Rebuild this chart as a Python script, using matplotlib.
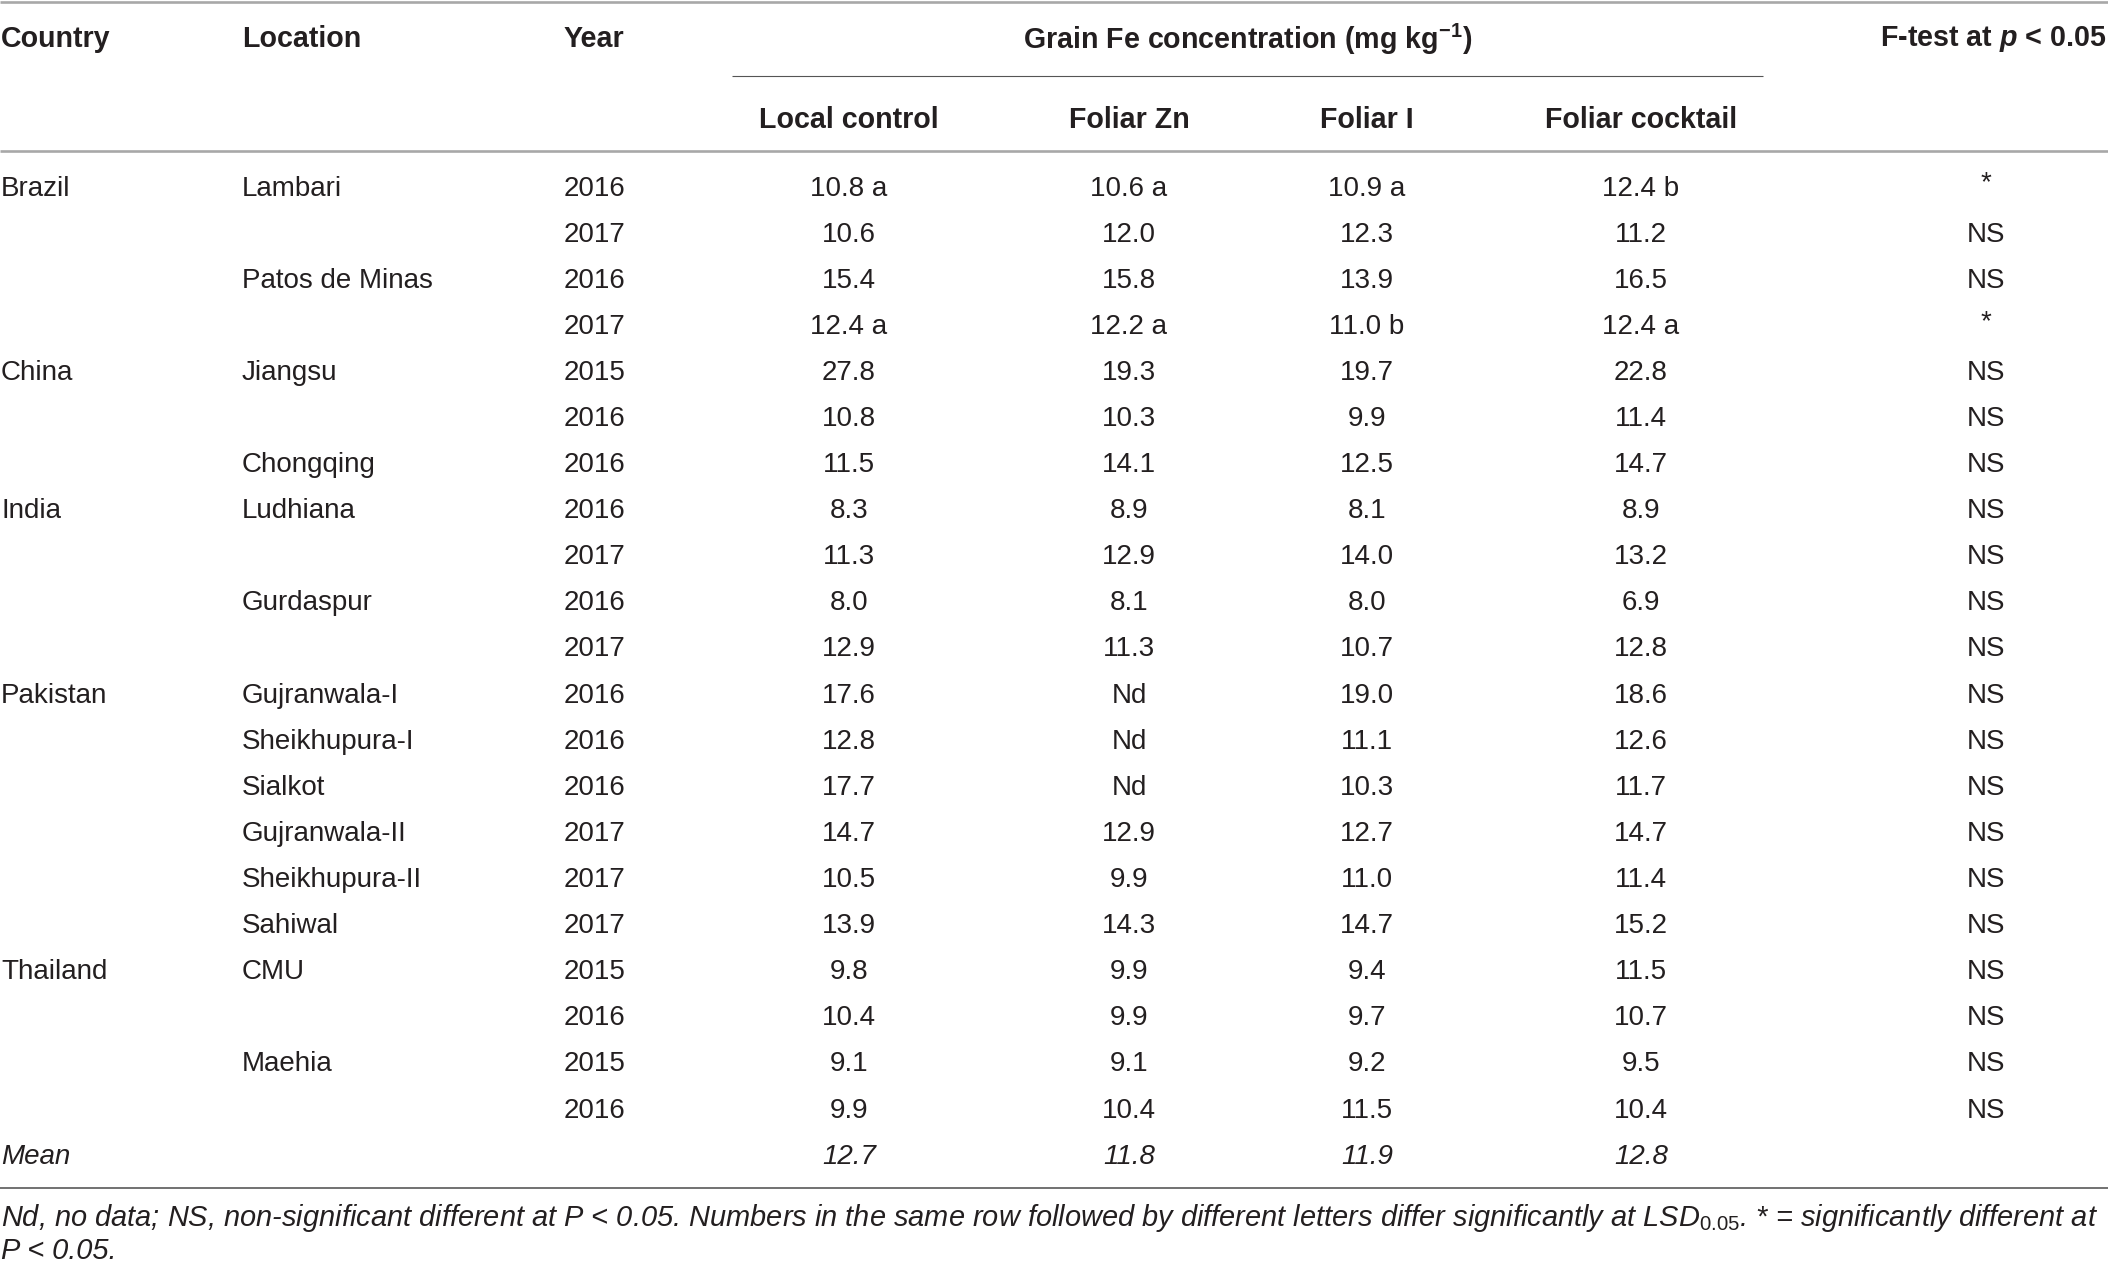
import matplotlib
matplotlib.use("Agg")
import matplotlib.pyplot as plt

# Table contents
countries = ["Brazil", "", "", "", "China", "", "", "India", "", "", "",
             "Pakistan", "", "", "", "", "", "Thailand", "", "", ""]
locations = ["Lambari", "", "Patos de Minas", "", "Jiangsu", "", "Chongqing",
             "Ludhiana", "", "Gurdaspur", "", "Gujranwala-I", "Sheikhupura-I",
             "Sialkot", "Gujranwala-II", "Sheikhupura-II", "Sahiwal", "CMU", "",
             "Maehia", ""]
years = ["2016", "2017", "2016", "2017", "2015", "2016", "2016", "2016", "2017",
         "2016", "2017", "2016", "2016", "2016", "2017", "2017", "2017", "2015",
         "2016", "2015", "2016"]
local_control = ["10.8 a", "10.6", "15.4", "12.4 a", "27.8", "10.8", "11.5", "8.3",
                 "11.3", "8.0", "12.9", "17.6", "12.8", "17.7", "14.7", "10.5",
                 "13.9", "9.8", "10.4", "9.1", "9.9"]
foliar_zn = ["10.6 a", "12.0", "15.8", "12.2 a", "19.3", "10.3", "14.1", "8.9",
             "12.9", "8.1", "11.3", "Nd", "Nd", "Nd", "12.9", "9.9", "14.3", "9.9",
             "9.9", "9.1", "10.4"]
foliar_i = ["10.9 a", "12.3", "13.9", "11.0 b", "19.7", "9.9", "12.5", "8.1",
            "14.0", "8.0", "10.7", "19.0", "11.1", "10.3", "12.7", "11.0", "14.7",
            "9.4", "9.7", "9.2", "11.5"]
foliar_cocktail = ["12.4 b", "11.2", "16.5", "12.4 a", "22.8", "11.4", "14.7", "8.9",
                   "13.2", "6.9", "12.8", "18.6", "12.6", "11.7", "14.7", "11.4",
                   "15.2", "11.5", "10.7", "9.5", "10.4"]
f_test = ["*", "NS", "NS", "*"] + ["NS"] * 17
means = ["12.7", "11.8", "11.9", "12.8"]
treatments = ["Local control", "Foliar Zn", "Foliar I", "Foliar cocktail"]

plt.rcParams["font.family"] = ["Liberation Sans", "DejaVu Sans"]
plt.rcParams["mathtext.fontset"] = "custom"
plt.rcParams["mathtext.rm"] = "Liberation Sans"
plt.rcParams["mathtext.it"] = "Liberation Sans:italic"
plt.rcParams["mathtext.bf"] = "Liberation Sans:bold"
plt.rcParams["mathtext.bfit"] = "Liberation Sans:bold:italic"

W, H = 2108, 1264
fig = plt.figure(figsize=(W / 100, H / 100), dpi=100)
ax = fig.add_axes([0, 0, 1, 1])
ax.set_xlim(0, W)
ax.set_ylim(H, 0)
ax.axis("off")

ink = "#231f20"
fs = 20
fs_bold = 20.6
fs_foot = 20.9

# column positions (pixels)
x_country, x_loc, x_year = 1, 242, 564
x_treat = [849, 1129, 1367, 1641]
x_ftest = 1986

# rules
ax.plot([0, W], [2, 2], color="#a8a8a8", lw=1.9, solid_capstyle="butt")
ax.plot([732, 1763], [76, 76], color="#555555", lw=0.8, solid_capstyle="butt")
ax.plot([0, W], [151, 151], color="#a8a8a8", lw=1.9, solid_capstyle="butt")
ax.plot([0, W], [1188, 1188], color="#666666", lw=1.3, solid_capstyle="butt")

# headers
hdr = dict(fontsize=fs_bold, fontweight="bold", color=ink, va="center")
ax.text(x_country, 39, "Country", ha="left", **hdr)
ax.text(x_loc, 39, "Location", ha="left", **hdr)
ax.text(x_year, 39, "Year", ha="left", **hdr)
ax.text(1248, 39, r"Grain Fe concentration (mg kg$^{\mathbf{-1}}$)", ha="center", **hdr)
ax.text(2106, 39, r"F-test at $\mathbfit{p}$ < 0.05", ha="right", **hdr)
for x, t in zip(x_treat, treatments):
    ax.text(x, 120, t, ha="center", **hdr)

# body
y0, dy = 188.5, 46.1
body = dict(fontsize=fs, color=ink, va="center")
for i in range(len(years)):
    y = y0 + i * dy
    ax.text(x_country, y, countries[i], ha="left", **body)
    ax.text(x_loc, y, locations[i], ha="left", **body)
    ax.text(x_year, y, years[i], ha="left", **body)
    for x, col in zip(x_treat, [local_control, foliar_zn, foliar_i, foliar_cocktail]):
        ax.text(x, y, col[i], ha="center", **body)
    if f_test[i] == "*":
        ax.text(x_ftest, y - 5, "*", ha="center", **body)
    else:
        ax.text(x_ftest, y, f_test[i], ha="center", **body)

y_mean = y0 + len(years) * dy
ax.text(x_country, y_mean, "Mean", ha="left", style="italic", **body)
for x, m in zip(x_treat, means):
    ax.text(x, y_mean, m, ha="center", style="italic", **body)

# footnote
foot = dict(fontsize=fs_foot, color=ink, va="center", ha="left", style="italic")
ax.text(1, 1218, "Nd, no data; NS, non-significant different at P < 0.05. Numbers in the same row "
        r"followed by different letters differ significantly at LSD$_{\mathit{0.05}}$. * = "
        "significantly different at", **foot)
ax.text(1, 1251, "P < 0.05.", **foot)

fig.savefig("out.png", dpi=100)
